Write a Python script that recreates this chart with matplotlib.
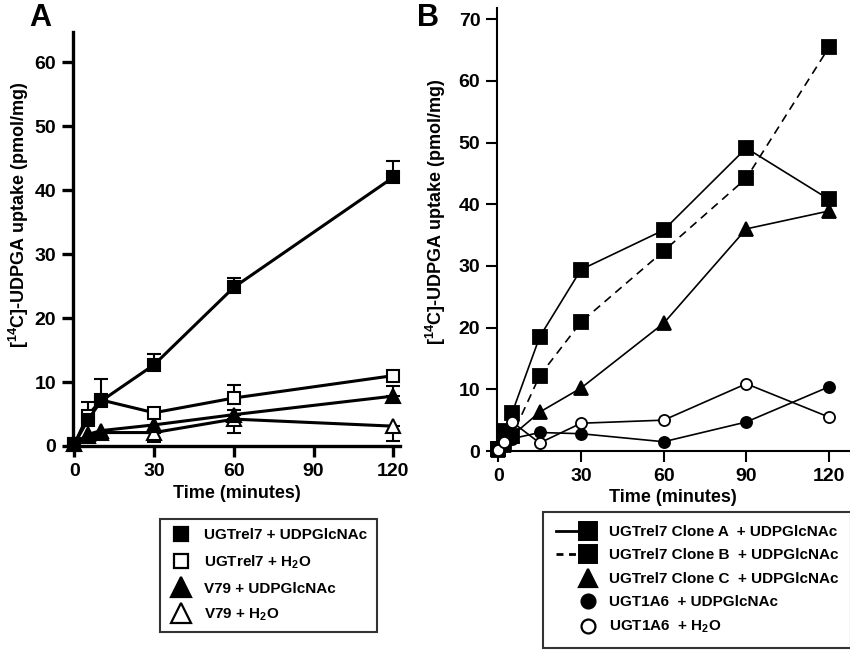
import matplotlib
matplotlib.use('Agg')
import matplotlib.pyplot as plt
from matplotlib.lines import Line2D
from matplotlib.legend_handler import HandlerLine2DCompound

plt.rcParams['font.family'] = ['Liberation Sans', 'DejaVu Sans']
plt.rcParams['font.weight'] = 'bold'
plt.rcParams['mathtext.fontset'] = 'custom'
plt.rcParams['mathtext.rm'] = 'Liberation Sans:bold'
plt.rcParams['mathtext.bf'] = 'Liberation Sans:bold'
plt.rcParams['mathtext.it'] = 'Liberation Sans:bold'

# ---------------- data: panel A ----------------
time_a = [0, 5, 10, 30, 60, 120]
ugt_udp_a = [0.3, 4.0, 7.0, 12.7, 24.8, 42.0]
ugt_udp_a_err = [0, 0, 0, 1.7, 1.5, 2.6]
ugt_h2o_a = [0.3, 4.7, 7.2, 5.2, 7.5, 11.0]
ugt_h2o_a_err = [0, 2.1, 3.3, 0, 2.0, 0]
v79_udp_a = [0.3, 1.8, 2.4, 3.3, 4.9, 7.8]
v79_udp_a_err = [0, 0, 0, 0, 0.8, 1.5]
v79_h2o_a = [0.3, 1.5, 2.1, 2.1, 4.2, 3.1]
v79_h2o_a_err_low = [0, 0, 0, 1.5, 2.2, 2.3]
labels_a = ['UGTrel7 + UDPGlcNAc', 'UGTrel7 + H$_\\mathbf{2}$O',
            'V79 + UDPGlcNAc', 'V79 + H$_\\mathbf{2}$O']

# ---------------- data: panel B ----------------
time_b = [0, 2, 5, 15, 30, 60, 90, 120]
clone_a = [0.3, 3.3, 6.2, 18.5, 29.4, 35.8, 49.1, 40.8]
clone_b = [0.3, 1.5, 2.5, 12.2, 20.9, 32.4, 44.2, 65.4]
clone_c = [0.2, 1.0, 2.5, 6.3, 10.2, 20.7, 36.0, 38.9]
ugt1a6_udp = [0.2, 1.0, 2.0, 3.0, 2.8, 1.5, 4.7, 10.4]
ugt1a6_h2o = [0.2, 1.5, 4.7, 1.3, 4.5, 5.0, 10.9, 5.5]
labels_b = ['UGTrel7 Clone A  + UDPGlcNAc', 'UGTrel7 Clone B  + UDPGlcNAc',
            'UGTrel7 Clone C  + UDPGlcNAc', 'UGT1A6  + UDPGlcNAc',
            'UGT1A6  + H$_\\mathbf{2}$O']

xticks = [0, 30, 60, 90, 120]
ylabel = '[$^{\\mathbf{14}}$C]-UDPGA uptake (pmol/mg)'

fig = plt.figure(figsize=(8.5, 6.5), dpi=100)
W, H = 850, 650
axA = fig.add_axes([73 / W, 1 - 446 / H, (400 - 73) / W, (446 - 32) / H])
axB = fig.add_axes([497 / W, 1 - 451 / H, (849 - 497) / W, (451 - 8) / H])


def style_axes(ax, lw):
    for s in ['top', 'right']:
        ax.spines[s].set_visible(False)
    for s in ['left', 'bottom']:
        ax.spines[s].set_linewidth(lw)
    ax.tick_params(direction='out', length=8, width=lw, labelsize=14, pad=4)
    for lab in ax.get_xticklabels() + ax.get_yticklabels():
        lab.set_fontweight('bold')


def errbars(ax, t, y, lo, hi, z):
    tt, yy, l, h = [], [], [], []
    for ti, yi, li, hi_ in zip(t, y, lo, hi):
        if li > 0 or hi_ > 0:
            tt.append(ti); yy.append(yi); l.append(li); h.append(hi_)
    ax.errorbar(tt, yy, yerr=[l, h], fmt='none', ecolor='black', elinewidth=1.5,
                capsize=5, capthick=1.5, zorder=z, clip_on=False)


# ---------- Panel A ----------
lwA = 2.2
series_a = [
    (ugt_udp_a, 's', 'black', 9),
    (ugt_h2o_a, 's', 'white', 9),
    (v79_udp_a, '^', 'black', 9.5),
    (v79_h2o_a, '^', 'white', 9.5),
]
zero6 = [0] * 6
errbars(axA, time_a, ugt_udp_a, zero6, ugt_udp_a_err, 2)
errbars(axA, time_a, ugt_h2o_a, zero6, ugt_h2o_a_err, 2)
errbars(axA, time_a, v79_udp_a, zero6, v79_udp_a_err, 2)
errbars(axA, time_a, v79_h2o_a, v79_h2o_a_err_low, zero6, 2)

for i, (y, m, fc, ms) in enumerate(series_a):
    axA.plot(time_a, y, color='black', lw=lwA, marker=m, ms=ms, mfc=fc,
             mec='black', mew=1.5, clip_on=False, zorder=3 + (3 - i))

axA.set_xlim(-0.5, 122.5)
axA.set_ylim(0, 64.7)
axA.set_xticks(xticks)
axA.set_yticks(range(0, 61, 10))
style_axes(axA, 2.4)
axA.set_xlabel('Time (minutes)', fontsize=13, fontweight='bold', labelpad=4)
axA.set_ylabel(ylabel, fontsize=13, fontweight='bold')
axA.yaxis.set_label_coords(31 / W, 1 - 215 / H, transform=fig.transFigure)

legA_ms = [9.5, 9.5, 14, 14]
hA = [Line2D([], [], ls='none', marker=m, ms=lms, mfc=fc, mec='black', mew=1.6)
      for (_, m, fc, _), lms in zip(series_a, legA_ms)]
legA = axA.legend(hA, labels_a, loc='upper left',
                  bbox_to_anchor=(160 / W, 1 - 519 / H),
                  bbox_transform=fig.transFigure, frameon=True, fancybox=False,
                  edgecolor='black', fontsize=11, handlelength=1.6,
                  handletextpad=0.7, labelspacing=0.72, borderpad=0.6,
                  borderaxespad=0)
legA.get_frame().set_linewidth(1.5)
for t in legA.get_texts():
    t.set_fontweight('bold')

# ---------- Panel B ----------
lwB = 1.2
series_b = [
    (clone_a, 's', 'black', '-', 9.5),
    (clone_b, 's', 'black', (0, (5, 3.5)), 9.5),
    (clone_c, '^', 'black', '-', 9.5),
    (ugt1a6_udp, 'o', 'black', '-', 8),
    (ugt1a6_h2o, 'o', 'white', '-', 8),
]
for i, (y, m, fc, ls, ms) in enumerate(series_b):
    axB.plot(time_b, y, color='black', lw=lwB, ls=ls, marker=m, ms=ms, mfc=fc,
             mec='black', mew=1.3, clip_on=False, zorder=3 + i)

axB.set_xlim(-0.5, 127.3)
axB.set_ylim(0, 71.8)
axB.set_xticks(xticks)
axB.set_yticks(range(0, 71, 10))
style_axes(axB, 1.5)
axB.set_xlabel('Time (minutes)', fontsize=13, fontweight='bold', labelpad=3)
axB.set_ylabel(ylabel, fontsize=13, fontweight='bold')
axB.yaxis.set_label_coords(448 / W, 1 - 212 / H, transform=fig.transFigure)


class RightMarker(HandlerLine2DCompound):
    def get_xdata(self, legend, xdescent, ydescent, width, height, fontsize):
        x0 = -xdescent
        xm = x0 + 0.8 * width
        return [x0, xm], [xm]


legB_ms = [12.5, 12.5, 12.5, 10, 10]
hB = []
for i, ((_, m, fc, ls, _), lms) in enumerate(zip(series_b, legB_ms)):
    if i < 2:
        hB.append(Line2D([], [], color='black', lw=2.0,
                         ls='-' if i == 0 else (0, (2.5, 2)),
                         marker=m, ms=lms, mfc=fc, mec='black', mew=1.4))
    else:
        hB.append(Line2D([], [], ls='none', marker=m, ms=lms, mfc=fc,
                         mec='black', mew=1.6))
legB = axB.legend(hB, labels_b, loc='upper left',
                  bbox_to_anchor=(543 / W, 1 - 512 / H),
                  bbox_transform=fig.transFigure, frameon=True, fancybox=False,
                  edgecolor='black', fontsize=11, handlelength=2.65,
                  handletextpad=0.8, labelspacing=0.62, borderpad=0.85,
                  borderaxespad=0, handler_map={Line2D: RightMarker(numpoints=1)})
legB.get_frame().set_linewidth(1.5)
for t in legB.get_texts():
    t.set_fontweight('bold')

fig.text(29 / W, 1 - 3 / H, 'A', fontsize=22, fontweight='bold', va='top', ha='left')
fig.text(417 / W, 1 - 3 / H, 'B', fontsize=22, fontweight='bold', va='top', ha='left')

fig.savefig('out.png', dpi=100)
